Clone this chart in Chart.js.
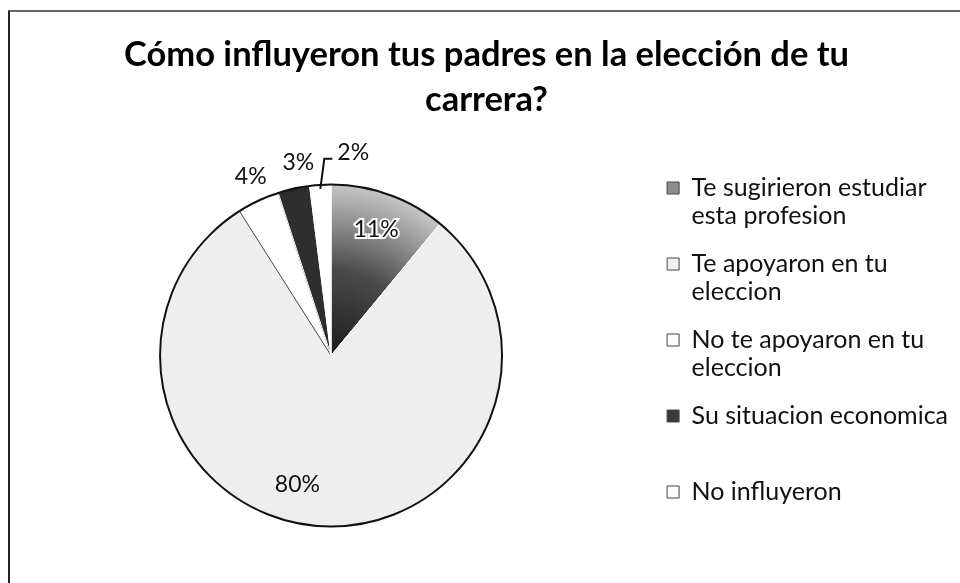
<!DOCTYPE html>
<html>
<head>
<meta charset="utf-8">
<script src="https://cdn.jsdelivr.net/npm/chart.js@4.4.1/dist/chart.umd.min.js"></script>
<style>
  html, body { margin: 0; padding: 0; background: #fff; }
  #wrap { position: relative; width: 960px; height: 583px; }
  #frame { position: absolute; left: 8px; top: 10px; right: 0; bottom: 0; border-left: 2px solid #222; border-top: 2px solid #666; pointer-events: none; }
</style>
</head>
<body>
<div id="wrap">
  <canvas id="myChart"></canvas>
  <div id="frame"></div>
</div>
<script>
// chart data
const titleLines = ['Cómo influyeron tus padres en la elección de tu', 'carrera?'];
const categories = [
    ['Te sugirieron estudiar', 'esta profesion'],
    ['Te apoyaron en tu', 'eleccion'],
    ['No te apoyaron en tu', 'eleccion'],
    ['Su situacion economica', ''],
    ['No influyeron', ''],
];
const shares = [11, 80, 4, 3, 2];

// styles (kept apart from the data)
const legendFill = ['#8c8c8c', '#f0f0f0', '#ffffff', '#3a3a3a', '#ffffff'];
const edgeColors = ['#ffffff', '#ffffff', '#444444', '#ffffff', '#ffffff'];

function sliceFill(context) {
    const i = context.dataIndex;
    const chart = context.chart;
    const area = chart.chartArea;
    if (!area) return legendFill[i];
    const cx = (area.left + area.right) / 2;
    const cy = (area.top + area.bottom) / 2;
    const c = chart.ctx;
    if (i === 0) {
        const g = c.createRadialGradient(cx, cy, 0, cx, cy, 171);
        g.addColorStop(0, '#1c1c1c');
        g.addColorStop(0.5, '#4a4a4a');
        g.addColorStop(1, '#c6c6c6');
        return g;
    }
    if (i === 1) return '#eeeeee';
    if (i === 3) return '#2e2e2e';
    return '#ffffff';
}

// outline of the pie + percentage labels
const pieExtras = {
    id: 'pieExtras',
    afterDatasetsDraw(chart, args, opts) {
        const meta = chart.getDatasetMeta(0);
        const ctx = chart.ctx;
        const first = meta.data[0];
        const cx = first.x, cy = first.y, r = first.outerRadius;
        ctx.save();
        ctx.beginPath();
        ctx.arc(cx, cy, r, 0, Math.PI * 2);
        ctx.lineWidth = 2;
        ctx.strokeStyle = '#111';
        ctx.stroke();

        ctx.font = opts.font;
        ctx.textBaseline = 'middle';
        ctx.fillStyle = '#111';
        meta.data.forEach((arc, i) => {
            const v = shares[i];
            const text = v + '%';
            const mid = (arc.startAngle + arc.endAngle) / 2 + (opts.nudge[i] || 0) * Math.PI / 180;
            if (v >= 10) {
                const d = r * 0.78;
                const x = cx + Math.cos(mid) * d, y = cy + Math.sin(mid) * d;
                ctx.textAlign = 'center';
                if (i === 0) {
                    ctx.lineWidth = 4;
                    ctx.strokeStyle = '#fff';
                    ctx.strokeText(text, x, y);
                }
                ctx.fillText(text, x, y);
            } else if (opts.leader[i]) {
                const x0 = cx + Math.cos(mid) * r, y0 = cy + Math.sin(mid) * r;
                ctx.beginPath();
                ctx.moveTo(x0, y0 + 4);
                ctx.lineTo(x0 + 4, y0 - 26);
                ctx.lineTo(x0 + 12, y0 - 26);
                ctx.lineWidth = 2;
                ctx.strokeStyle = '#111';
                ctx.stroke();
                ctx.textAlign = 'left';
                ctx.fillText(text, x0 + 17, y0 - 32);
            } else {
                const d = r + 25;
                ctx.textAlign = 'center';
                ctx.fillText(text, cx + Math.cos(mid) * d, cy + Math.sin(mid) * d);
            }
        });
        ctx.restore();
    },
};

const ctx = document.getElementById('myChart').getContext('2d');
const myChart = new Chart(ctx, {
    type: 'pie',
    data: {
        labels: categories,
        datasets: [
            {
                data: shares,
                backgroundColor: sliceFill,
                borderColor: edgeColors,
                borderWidth: 1,
                radius: 171,
            },
        ],
    },
    options: {
        responsive: true,
        maintainAspectRatio: false,
        animation: false,
        layout: { padding: { left: 15, right: 2, top: 0, bottom: 2 } },
        plugins: {
            title: {
                display: true,
                text: titleLines,
                color: '#000',
                font: { family: 'Lato', weight: 'bold', size: 34.5, lineHeight: 45 / 34.5 },
                padding: { top: 32, bottom: 8 },
            },
            legend: {
                position: 'right',
                align: 'center',
                fullSize: false,
                labels: {
                    boxWidth: 12,
                    boxHeight: 12,
                    padding: 20,
                    color: '#111',
                    font: { family: 'Lato', size: 25, lineHeight: 28 / 25 },
                    generateLabels: (chart) => {
                        const items = Chart.controllers.pie.overrides.plugins.legend.labels.generateLabels(chart);
                        items.forEach((item, i) => {
                            item.fillStyle = legendFill[i];
                            item.strokeStyle = '#444';
                            item.lineWidth = 1;
                        });
                        return items;
                    },
                },
            },
            tooltip: { enabled: false },
            pieExtras: {
                font: '23px Lato',
                nudge: [0, 11, 1, 3, 0],
                leader: [false, false, false, false, true],
            },
        },
    },
    plugins: [pieExtras],
});
</script>
</body>
</html>
